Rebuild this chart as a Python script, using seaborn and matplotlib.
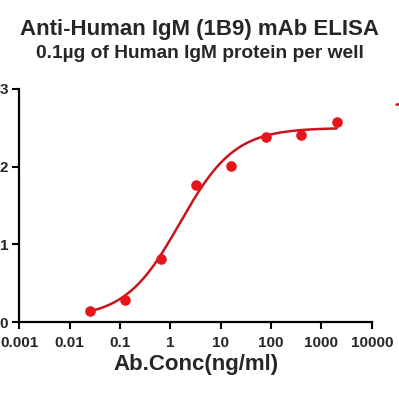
import numpy as np
import pandas as pd
import matplotlib
matplotlib.use("Agg")
import matplotlib.pyplot as plt
import seaborn as sns

# Data
conc = [0.0256, 0.128, 0.64, 3.2, 16, 80, 400, 2000]
od = [0.14, 0.28, 0.81, 1.76, 2.01, 2.38, 2.41, 2.57]
# fitted 4PL parameters (bottom, top, EC50, hill)
fit_bottom, fit_top, fit_ec50, fit_hill = 0.05, 2.50, 1.55, 0.8
xticks = [0.001, 0.01, 0.1, 1, 10, 100, 1000, 10000]
xticklabels = ["0.001", "0.01", "0.1", "1", "10", "100", "1000", "10000"]
yticks = [0, 1, 2, 3]
title = "Anti-Human IgM (1B9) mAb ELISA"
subtitle = "0.1\u00b5g of Human IgM protein per well"
xlabel = "Ab.Conc(ng/ml)"
red_pts = "#e8141c"
red_line = "#c8151b"

sns.set_style("ticks")
plt.rcParams["font.family"] = ["Liberation Sans", "DejaVu Sans"]
plt.rcParams["font.weight"] = "bold"

df = pd.DataFrame({"conc": conc, "od": od})
xs = np.logspace(np.log10(conc[0]), np.log10(conc[-1]), 200)
ys = fit_top + (fit_bottom - fit_top) / (1 + (xs / fit_ec50) ** fit_hill)
fit_df = pd.DataFrame({"conc": xs, "od": ys})

fig = plt.figure(figsize=(3.99, 4.0), dpi=100)
ax = fig.add_axes([0.048, 0.195, 0.884, 0.5825])

sns.lineplot(data=fit_df, x="conc", y="od", ax=ax, color=red_line, linewidth=1.8, label="Human IgM")
sns.scatterplot(data=df, x="conc", y="od", ax=ax, color=red_pts, s=58, edgecolor=red_pts, linewidth=0, zorder=3, legend=False)

ax.set_xscale("log")
ax.set_xlim(0.001, 10000)
ax.set_ylim(0, 3)
ax.set_xticks(xticks)
ax.set_xticklabels(xticklabels)
ax.minorticks_off()
ax.set_yticks(yticks)
ax.set_yticklabels([str(v) for v in yticks])
ax.tick_params(axis="both", labelsize=11, width=1.5, length=5, color="black", pad=3)
ax.tick_params(axis="x", pad=5)
for lab in ax.get_xticklabels() + ax.get_yticklabels():
    lab.set_fontweight("bold")
for s in ["left", "bottom"]:
    ax.spines[s].set_linewidth(1.6)
    ax.spines[s].set_color("black")
sns.despine(ax=ax)
ax.set_xlabel(xlabel, fontsize=16, fontweight="bold", labelpad=3)
ax.set_ylabel("")

leg = ax.legend(loc="upper left", bbox_to_anchor=(0.978, 0.77), bbox_transform=fig.transFigure,
                frameon=False, fontsize=10, handlelength=2.0, borderaxespad=0)

fig.text(0.5, 0.925, title, ha="center", va="center", fontsize=16, fontweight="bold")
fig.text(0.5, 0.865, subtitle, ha="center", va="center", fontsize=13.8, fontweight="bold")

fig.savefig("out.png", dpi=100)
